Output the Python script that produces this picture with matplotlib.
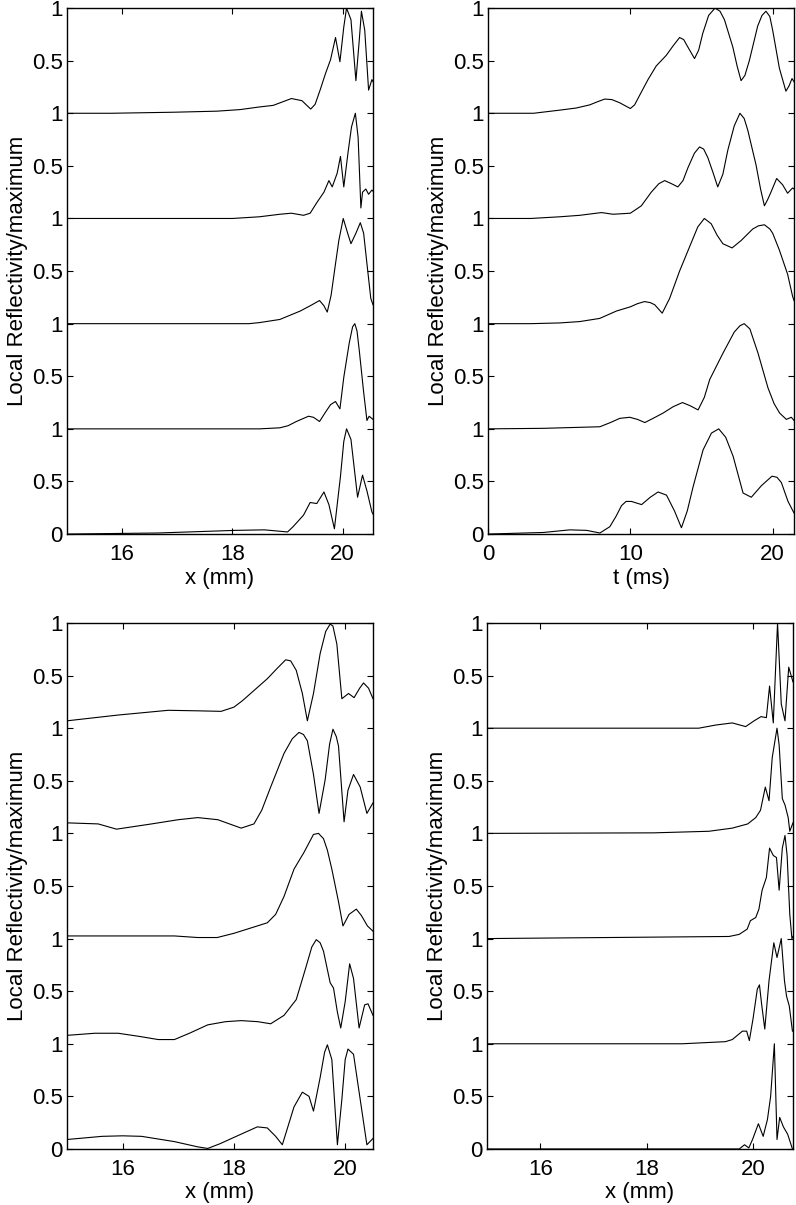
import numpy as np
import matplotlib
matplotlib.use('Agg')
import matplotlib.pyplot as plt

plt.rcParams['font.family'] = ['Liberation Sans', 'DejaVu Sans']
plt.rcParams['font.size'] = 16

# ---------------------------------------------------------------------------
# top left panel: x (mm), traces listed from bottom (0) to top (4)
a0_x = [15.0, 16.64, 18.05, 18.58, 19.0, 19.10, 19.29, 19.41, 19.53, 19.66, 19.75, 19.85,
        19.96, 20.02, 20.07, 20.15, 20.27, 20.36, 20.44, 20.53, 20.55]
a0_y = [0.0, 0.01, 0.035, 0.04, 0.02, 0.07, 0.18, 0.30, 0.29, 0.40, 0.28, 0.05,
        0.55, 0.88, 1.0, 0.9, 0.35, 0.56, 0.41, 0.21, 0.19]
a1_x = [15.0, 18.0, 18.49, 18.86, 19.01, 19.16, 19.38, 19.47, 19.58, 19.69, 19.78, 19.87,
        19.95, 20.02, 20.12, 20.18, 20.22, 20.26, 20.30, 20.38, 20.44, 20.48, 20.55]
a1_y = [0.0, 0.0, 0.0, 0.01, 0.03, 0.07, 0.12, 0.11, 0.07, 0.16, 0.23, 0.26,
        0.19, 0.49, 0.82, 0.97, 1.0, 0.93, 0.75, 0.35, 0.08, 0.12, 0.09]
a2_x = [15.0, 18.3, 18.49, 18.86, 19.23, 19.41, 19.58, 19.66, 19.72, 19.79, 19.87, 19.93,
        20.01, 20.09, 20.15, 20.24, 20.32, 20.38, 20.44, 20.51, 20.55]
a2_y = [0.0, 0.0, 0.01, 0.04, 0.12, 0.17, 0.22, 0.17, 0.11, 0.27, 0.57, 0.79,
        1.0, 0.86, 0.76, 0.86, 0.96, 0.86, 0.57, 0.24, 0.18]
a3_x = [15.0, 18.0, 18.49, 18.86, 19.07, 19.29, 19.41, 19.53, 19.66, 19.75, 19.81, 19.90,
        19.96, 20.02, 20.10, 20.16, 20.23, 20.28, 20.33, 20.36, 20.42, 20.47, 20.53, 20.55]
a3_y = [0.0, 0.0, 0.016, 0.04, 0.05, 0.03, 0.05, 0.15, 0.25, 0.36, 0.30, 0.43,
        0.59, 0.30, 0.64, 0.87, 1.0, 0.77, 0.10, 0.25, 0.28, 0.23, 0.27, 0.26]
a4_x = [15.0, 15.8, 16.94, 17.72, 18.14, 18.49, 18.74, 19.07, 19.26, 19.42, 19.50, 19.59,
        19.69, 19.78, 19.87, 19.95, 20.02, 20.07, 20.15, 20.24, 20.30, 20.34, 20.40, 20.47,
        20.53, 20.55]
a4_y = [0.0, 0.0, 0.01, 0.02, 0.035, 0.06, 0.075, 0.14, 0.12, 0.04, 0.085, 0.22,
        0.38, 0.51, 0.72, 0.49, 0.82, 1.0, 0.89, 0.31, 0.69, 0.97, 0.79, 0.22,
        0.32, 0.30]

# top right panel: t (ms)
b0_x = [0, 3.88, 5.75, 6.93, 7.86, 8.56, 9.0, 9.38, 9.7, 10.08, 10.79, 11.4, 11.95, 12.54,
        13.1, 13.59, 14.0, 14.41, 15.11, 15.7, 16.21, 16.7, 17.22, 17.92, 18.5, 19.21,
        19.95, 20.3, 20.61, 21.08, 21.5]
b0_y = [0, 0.015, 0.04, 0.035, 0.01, 0.07, 0.17, 0.27, 0.31, 0.31, 0.28, 0.35, 0.40, 0.37,
        0.22, 0.06, 0.22, 0.45, 0.80, 0.96, 1.0, 0.92, 0.74, 0.39, 0.35, 0.46,
        0.55, 0.54, 0.49, 0.31, 0.20]
b1_x = [0, 3.88, 7.86, 8.6, 9.26, 9.96, 10.5, 11.02, 11.6, 12.3, 13.0, 13.66, 14.2, 14.76,
        15.2, 15.58, 16.51, 17.3, 17.7, 18.0, 18.4, 18.97, 19.67, 20.1, 20.49, 20.96,
        21.31, 21.5]
b1_y = [0, 0.005, 0.02, 0.06, 0.10, 0.11, 0.09, 0.06, 0.10, 0.15, 0.21, 0.25, 0.22, 0.18,
        0.30, 0.47, 0.72, 0.92, 0.98, 1.0, 0.95, 0.72, 0.39, 0.24, 0.15, 0.09,
        0.11, 0.08]
b2_x = [0, 3.0, 5.05, 6.45, 7.85, 9.02, 10.0, 10.5, 11.0, 11.4, 11.71, 12.24, 12.76, 13.46,
        14.16, 14.74, 15.2, 15.68, 16.1, 16.5, 17.15, 17.78, 18.6, 19.0, 19.42, 19.8, 20.0,
        20.47, 21.05, 21.4, 21.5]
b2_y = [0, 0.0, 0.007, 0.02, 0.05, 0.12, 0.16, 0.19, 0.21, 0.20, 0.18, 0.10, 0.24, 0.50,
        0.73, 0.92, 1.0, 0.95, 0.84, 0.76, 0.72, 0.79, 0.90, 0.93, 0.94, 0.90, 0.86,
        0.70, 0.47, 0.26, 0.22]
b3_x = [0, 3.0, 5.05, 6.45, 7.97, 8.79, 10.0, 10.77, 11.47, 12.0, 12.41, 12.9, 13.34, 13.7,
        14.04, 14.5, 14.86, 15.15, 15.44, 15.8, 16.14, 16.5, 16.85, 17.3, 17.7, 18.0, 18.25,
        18.83, 19.15, 19.42, 19.65, 19.88, 20.28, 20.7, 21.05, 21.4, 21.5]
b3_y = [0, 0.0, 0.016, 0.03, 0.056, 0.04, 0.05, 0.12, 0.25, 0.33, 0.36, 0.33, 0.30, 0.36,
        0.48, 0.62, 0.68, 0.66, 0.58, 0.44, 0.30, 0.42, 0.65, 0.88, 1.0, 0.95, 0.84,
        0.51, 0.28, 0.12, 0.18, 0.25, 0.38, 0.32, 0.24, 0.29, 0.28]
b4_x = [0, 3.2, 5.05, 6.2, 7.15, 7.7, 8.2, 8.7, 9.25, 10.0, 10.3, 10.65, 11.24, 11.82, 12.52,
        13.0, 13.46, 13.75, 14.04, 14.51, 14.8, 15.09, 15.5, 15.95, 16.3, 16.61, 17.2, 17.5,
        17.78, 18.05, 18.36, 18.95, 19.25, 19.53, 19.8, 20.0, 20.47, 20.93, 21.15, 21.36,
        21.5]
b4_y = [0, 0.0, 0.03, 0.05, 0.08, 0.11, 0.135, 0.13, 0.10, 0.045, 0.08, 0.17, 0.32, 0.45,
        0.55, 0.64, 0.72, 0.70, 0.63, 0.52, 0.6, 0.76, 0.93, 1.0, 0.97, 0.89, 0.63, 0.45,
        0.31, 0.36, 0.50, 0.83, 0.93, 0.97, 0.92, 0.79, 0.43, 0.21, 0.26, 0.33,
        0.30]

# bottom left panel: x (mm)
c0_x = [15.0, 15.63, 16.0, 16.34, 16.93, 17.35, 17.53, 17.75, 18.0, 18.42, 18.6, 18.75,
        18.87, 19.08, 19.23, 19.35, 19.43, 19.55, 19.63, 19.68, 19.76, 19.86, 19.94, 20.0,
        20.05, 20.15, 20.27, 20.39, 20.5]
c0_y = [0.09, 0.12, 0.125, 0.12, 0.07, 0.02, 0.005, 0.05, 0.11, 0.21, 0.20, 0.12,
        0.04, 0.40, 0.54, 0.50, 0.36, 0.68, 0.92, 0.99, 0.85, 0.04, 0.47, 0.85,
        0.95, 0.90, 0.47, 0.04, 0.10]
c1_x = [15.0, 15.5, 15.92, 16.3, 16.64, 16.93, 17.2, 17.53, 17.85, 18.13, 18.43, 18.66,
        18.9, 19.12, 19.29, 19.4, 19.48, 19.55, 19.61, 19.73, 19.79, 19.86, 19.92, 20.0,
        20.08, 20.15, 20.25, 20.35, 20.41, 20.5]
c1_y = [0.08, 0.10, 0.10, 0.07, 0.04, 0.04, 0.10, 0.18, 0.21, 0.22, 0.21, 0.19,
        0.27, 0.42, 0.72, 0.92, 0.99, 0.96, 0.88, 0.58, 0.53, 0.30, 0.15, 0.40,
        0.76, 0.62, 0.15, 0.37, 0.38, 0.27]
c2_x = [15.0, 16.93, 17.35, 17.7, 18.0, 18.3, 18.6, 18.75, 18.9, 19.08, 19.26, 19.43,
        19.52, 19.61, 19.68, 19.76, 19.88, 19.96, 20.07, 20.2, 20.29, 20.4, 20.5]
c2_y = [0.025, 0.025, 0.01, 0.01, 0.05, 0.10, 0.15, 0.23, 0.40, 0.66, 0.82, 0.99,
        1.0, 0.95, 0.84, 0.66, 0.35, 0.12, 0.23, 0.28, 0.22, 0.12, 0.07]
c3_x = [15.0, 15.56, 15.89, 16.52, 17.0, 17.35, 17.71, 18.13, 18.36, 18.5, 18.66, 18.9,
        19.05, 19.17, 19.25, 19.32, 19.43, 19.53, 19.64, 19.72, 19.78, 19.84, 19.88, 19.98,
        20.05, 20.15, 20.27, 20.39, 20.5]
c3_y = [0.10, 0.09, 0.04, 0.09, 0.13, 0.15, 0.13, 0.05, 0.09, 0.22, 0.44, 0.76,
        0.90, 0.96, 0.94, 0.88, 0.56, 0.19, 0.51, 0.85, 0.99, 0.92, 0.83, 0.11,
        0.41, 0.56, 0.44, 0.19, 0.29]
c4_x = [15.0, 15.92, 16.82, 17.35, 17.77, 18.0, 18.15, 18.3, 18.6, 18.78, 18.93, 19.02,
        19.12, 19.23, 19.32, 19.43, 19.55, 19.65, 19.73, 19.78, 19.85, 19.94, 20.06, 20.16,
        20.26, 20.33, 20.42, 20.5]
c4_y = [0.07, 0.125, 0.17, 0.165, 0.16, 0.20, 0.26, 0.33, 0.47, 0.57, 0.65, 0.64,
        0.55, 0.33, 0.07, 0.33, 0.71, 0.92, 0.99, 0.97, 0.80, 0.28, 0.33, 0.29,
        0.38, 0.43, 0.38, 0.28]

# bottom right panel: x (mm)
d0_x = [15.0, 19.74, 19.84, 19.92, 19.99, 20.1, 20.19, 20.27, 20.33, 20.4, 20.45, 20.5,
        20.57, 20.65, 20.74]
d0_y = [0.0, 0.0, 0.04, 0.01, 0.09, 0.24, 0.12, 0.28, 0.5, 1.0, 0.09, 0.30,
        0.21, 0.14, 0.0]
d1_x = [15.0, 18.67, 19.48, 19.61, 19.8, 19.88, 19.93, 20.0, 20.08, 20.12, 20.16, 20.22,
        20.3, 20.39, 20.45, 20.53, 20.59, 20.63, 20.68, 20.74]
d1_y = [0.0, 0.0, 0.02, 0.04, 0.12, 0.12, 0.03, 0.24, 0.52, 0.56, 0.38, 0.14,
        0.60, 0.96, 0.82, 1.0, 0.60, 0.45, 0.36, 0.12]
d2_x = [15.0, 19.55, 19.74, 19.89, 19.95, 20.05, 20.11, 20.17, 20.25, 20.31, 20.38, 20.44,
        20.49, 20.55, 20.6, 20.64, 20.69, 20.73, 20.75]
d2_y = [0.0, 0.02, 0.04, 0.09, 0.17, 0.20, 0.28, 0.46, 0.58, 0.86, 0.79, 0.77,
        0.46, 0.86, 0.98, 0.79, 0.23, 0.0, 0.02]
d3_x = [15.0, 18.13, 19.17, 19.61, 19.9, 20.05, 20.14, 20.23, 20.3, 20.36, 20.45, 20.49,
        20.55, 20.6, 20.66, 20.69, 20.75]
d3_y = [0.0, 0.005, 0.02, 0.05, 0.09, 0.15, 0.22, 0.44, 0.31, 0.72, 1.0, 0.84,
        0.33, 0.27, 0.15, 0.02, 0.10]
d4_x = [15.0, 18.98, 19.3, 19.61, 19.86, 20.02, 20.15, 20.25, 20.31, 20.38, 20.46, 20.53,
        20.6, 20.67, 20.75]
d4_y = [0.0, 0.0, 0.03, 0.05, 0.015, 0.07, 0.11, 0.10, 0.40, 0.05, 1.0, 0.23,
        0.07, 0.58, 0.44]

ytick_labels = ['0', '0.5', '1', '0.5', '1', '0.5', '1', '0.5', '1', '0.5', '1']
ylabel = 'Local Reflectivity/maximum'

# panel settings: traces, x limits, x ticks, x label, axes box (figure fraction)
paneles = [
    ([(a0_x, a0_y), (a1_x, a1_y), (a2_x, a2_y), (a3_x, a3_y), (a4_x, a4_y)],
     (15, 20.55), [16, 18, 20], 'x (mm)', [0.0842, 0.5568, 0.3844, 0.4365]),
    ([(b0_x, b0_y), (b1_x, b1_y), (b2_x, b2_y), (b3_x, b3_y), (b4_x, b4_y)],
     (0, 21.5), [0, 10, 20], 't (ms)', [0.6131, 0.5568, 0.3844, 0.4365]),
    ([(c0_x, c0_y), (c1_x, c1_y), (c2_x, c2_y), (c3_x, c3_y), (c4_x, c4_y)],
     (15, 20.5), [16, 18, 20], 'x (mm)', [0.0842, 0.0465, 0.3844, 0.4365]),
    ([(d0_x, d0_y), (d1_x, d1_y), (d2_x, d2_y), (d3_x, d3_y), (d4_x, d4_y)],
     (15, 20.75), [16, 18, 20], 'x (mm)', [0.6118, 0.0465, 0.3844, 0.4365]),
]

fig = plt.figure(figsize=(7.96, 12.05), dpi=100)

for trazas, xlim, xticks, xlabel, caja in paneles:
    ax = fig.add_axes(caja)
    # each trace is stacked one unit above the previous one
    for k, (x, y) in enumerate(trazas):
        ax.plot(x, np.array(y) + k, color='black', linewidth=0.8)
    ax.set_xlim(xlim)
    ax.set_ylim(0, 5)
    ax.set_xticks(xticks)
    ax.set_yticks(np.arange(0, 5.01, 0.5))
    ax.set_yticklabels(ytick_labels)
    ax.tick_params(direction='in', top=True, right=True, length=4, width=0.8)
    ax.tick_params(axis='x', pad=7)
    ax.tick_params(axis='y', pad=3)
    for s in ax.spines.values():
        s.set_linewidth(1.0)
    ax.set_xlabel(xlabel, labelpad=2)
    ax.set_ylabel(ylabel, labelpad=3)

fig.savefig('out.png', dpi=100)
